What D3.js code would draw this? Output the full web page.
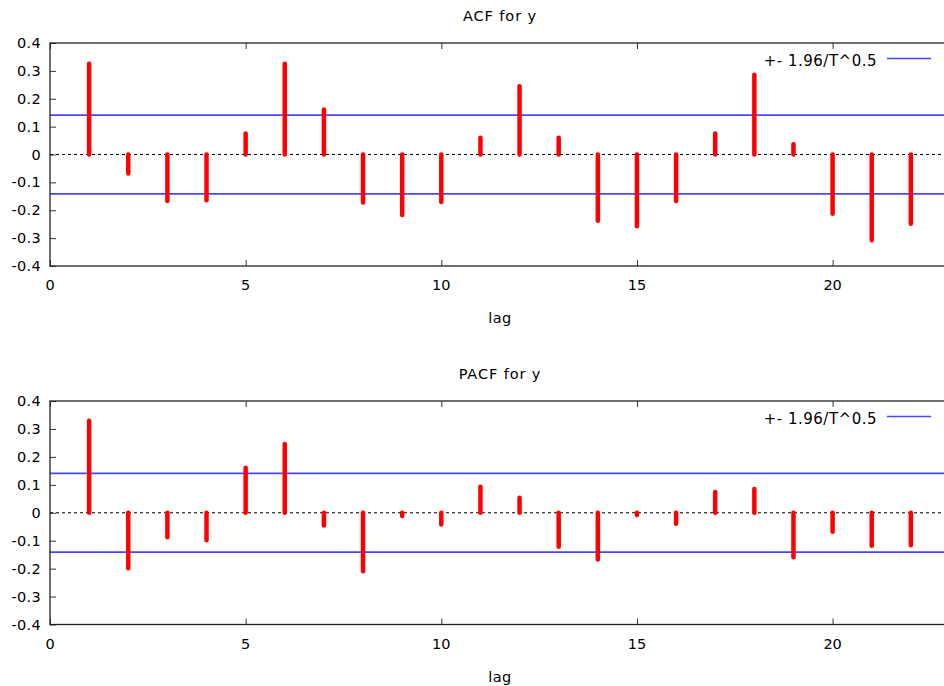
<!DOCTYPE html>
<html><head><meta charset="utf-8">
<script src="https://cdn.jsdelivr.net/npm/d3@7"></script>
<style>body{margin:0;background:#fff}svg{display:block}text{font-family:"DejaVu Sans",Verdana,sans-serif;fill:#000}</style>
</head><body><svg id="c" width="944" height="686"></svg>
<script>
const lags = d3.range(1, 23);
const acfValues = [0.326,-0.068,-0.167,-0.164,0.075,0.326,0.161,-0.172,-0.217,-0.170,0.060,0.245,0.060,-0.238,-0.257,-0.167,0.075,0.286,0.037,-0.213,-0.308,-0.248];
const pacfValues = [0.329,-0.199,-0.088,-0.098,0.161,0.246,-0.046,-0.209,-0.012,-0.042,0.093,0.054,-0.122,-0.167,-0.008,-0.039,0.074,0.085,-0.159,-0.068,-0.118,-0.116];
const bandValue = 0.1412;
const yTicks = [-0.4,-0.3,-0.2,-0.1,0,0.1,0.2,0.3,0.4];
const yTickLabels = ["-0.4","-0.3","-0.2","-0.1","0","0.1","0.2","0.3","0.4"];
const xTicks = [0,5,10,15,20];
const titles = ["ACF for y","PACF for y"];
const xLabel = "lag";
const legendLabel = "+- 1.96/T^0.5";

const svg = d3.select("#c");
const left = 50, right = 950;
const panels = [{top:43, bottom:266, vals:acfValues, title:titles[0]},
                {top:401, bottom:624.5, vals:pacfValues, title:titles[1]}];

panels.forEach(p => {
  const x = d3.scaleLinear().domain([0,23]).range([left,right]);
  const y = d3.scaleLinear().domain([-0.4,0.4]).range([p.bottom,p.top]);
  const g = svg.append("g");
  g.append("text").attr("x",(left+right)/2).attr("y",p.top-22).attr("text-anchor","middle")
    .attr("font-size",14.5).attr("letter-spacing",0.9).text(p.title);
  const yl = g.append("g").attr("transform",`translate(${left},0)`)
    .call(d3.axisRight(y).tickValues(yTicks).tickSize(6).tickFormat(""));
  yl.select(".domain").remove();
  yl.selectAll("line").attr("stroke","#333");
  g.selectAll(".ylab").data(yTicks).join("text").attr("class","ylab")
    .attr("x",left-9).attr("y",d=>y(d)).attr("dy","0.35em").attr("text-anchor","end")
    .attr("font-size",14.5).attr("letter-spacing",0.3).text((d,i)=>yTickLabels[i]);
  const yr = g.append("g").attr("transform",`translate(${right},0)`)
    .call(d3.axisLeft(y).tickValues(yTicks).tickSize(6).tickFormat(""));
  yr.select(".domain").remove();
  yr.selectAll("line").attr("stroke","#333");
  const xb = g.append("g").attr("transform",`translate(0,${p.bottom})`)
    .call(d3.axisTop(x).tickValues(xTicks).tickSize(6).tickFormat(""));
  xb.select(".domain").remove();
  xb.selectAll("line").attr("stroke","#333");
  const xt = g.append("g").attr("transform",`translate(0,${p.top})`)
    .call(d3.axisBottom(x).tickValues(xTicks).tickSize(6).tickFormat(""));
  xt.select(".domain").remove();
  xt.selectAll("line").attr("stroke","#333");
  g.selectAll(".xlab").data(xTicks).join("text").attr("class","xlab")
    .attr("x",d=>x(d)).attr("y",p.bottom+19).attr("dy","0.35em").attr("text-anchor","middle")
    .attr("font-size",14.5).text(d=>d);
  g.append("text").attr("x",(left+right)/2).attr("y",p.bottom+52).attr("dy","0.35em")
    .attr("text-anchor","middle").attr("font-size",14.5).attr("letter-spacing",0.5).text(xLabel);
  g.append("line").attr("x1",left).attr("x2",right).attr("y1",y(0)).attr("y2",y(0))
    .attr("stroke","#000").attr("stroke-width",1).attr("stroke-dasharray","3,3");
  [bandValue,-bandValue].forEach(v=>{
    g.append("line").attr("x1",left).attr("x2",right).attr("y1",y(v)).attr("y2",y(v))
      .attr("stroke","#4646ff").attr("stroke-width",1.8);
  });
  g.selectAll(".bar").data(p.vals).join("line").attr("class","bar")
    .attr("x1",(d,i)=>x(lags[i])).attr("x2",(d,i)=>x(lags[i]))
    .attr("y1",y(0)).attr("y2",d=>y(d))
    .attr("stroke","#ff0000").attr("stroke-width",4.5).attr("stroke-linecap","round");
  g.append("text").attr("x",877).attr("y",p.top+18).attr("dy","0.35em").attr("text-anchor","end")
    .attr("font-size",15).attr("letter-spacing",0.5).text(legendLabel);
  g.append("line").attr("x1",887).attr("x2",931).attr("y1",p.top+15.5).attr("y2",p.top+15.5)
    .attr("stroke","#4646ff").attr("stroke-width",1.3);
  g.append("rect").attr("x",left).attr("y",p.top).attr("width",right-left).attr("height",p.bottom-p.top)
    .attr("fill","none").attr("stroke","#222").attr("stroke-width",1.3);
});
</script></body></html>
